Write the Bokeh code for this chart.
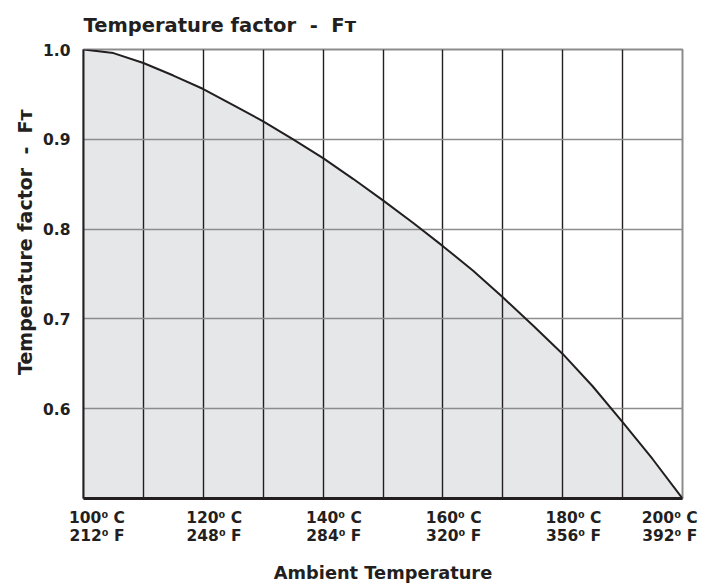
from bokeh.plotting import figure
from bokeh.models import FixedTicker, ColumnDataSource, Range1d, Title
from bokeh.embed import file_html
from bokeh.resources import INLINE

# ---- data ----
temp_c = [100, 105, 110, 115, 120, 125, 130, 135, 140, 145, 150,
          155, 160, 165, 170, 175, 180, 185, 190, 195, 200]
factor = [1.000, 0.996, 0.985, 0.971, 0.956, 0.938, 0.920, 0.900, 0.879, 0.856, 0.832,
          0.807, 0.781, 0.754, 0.724, 0.693, 0.661, 0.625, 0.585, 0.544, 0.500]

x_label_ticks = [100, 120, 140, 160, 180, 200]
x_label_c = ["100\u2070 C", "120\u2070 C", "140\u2070 C", "160\u2070 C", "180\u2070 C", "200\u2070 C"]
x_label_f = ["212\u2070 F", "248\u2070 F", "284\u2070 F", "320\u2070 F", "356\u2070 F", "392\u2070 F"]
x_grid_ticks = [110, 120, 130, 140, 150, 160, 170, 180, 190]
y_ticks = [0.6, 0.7, 0.8, 0.9, 1.0]
y_tick_labels = ["0.6", "0.7", "0.8", "0.9", "1.0"]

NB = "\u00a0"
title_text = "Temperature factor" + NB * 2 + "-" + NB * 2 + "F\u1d1b"
x_title = "Ambient Temperature"
y_title = "Temperature factor" + NB * 2 + "-" + NB * 2 + "F\u1d1b"

FONT = "DejaVu Sans"
INK = "#231F20"
GRAY = "#8C8C8C"
FILL = "#E6E7E8"

X0, X1 = 100, 200
Y0, Y1 = 0.5, 1.0

p = figure(width=708, height=586, output_backend="svg", toolbar_location=None,
           x_range=Range1d(X0, X1), y_range=Range1d(Y0, Y1),
           min_border_left=83, min_border_right=26, min_border_top=49, min_border_bottom=88)

# title
p.title.text = title_text
p.title.text_font = FONT
p.title.text_font_size = "19.5px"
p.title.text_font_style = "bold"
p.title.text_color = INK
p.title.align = "left"
p.title.vertical_align = "top"
p.title.standoff = 22

# fill under curve and curve
src = ColumnDataSource(dict(x=temp_c, y=factor, y0=[Y0] * len(temp_c)))
p.varea(x="x", y1="y0", y2="y", source=src, fill_color=FILL, level="image")
p.line(x="x", y="y", source=src, line_color=INK, line_width=2)

# grids
p.xgrid.ticker = FixedTicker(ticks=x_grid_ticks)
p.xgrid.grid_line_color = INK
p.xgrid.grid_line_width = 1.4
p.ygrid.ticker = FixedTicker(ticks=y_ticks)
p.ygrid.grid_line_color = GRAY
p.ygrid.grid_line_width = 1.6

p.outline_line_color = GRAY
p.outline_line_width = 2
p.background_fill_color = "white"
p.border_fill_color = "white"

# y axis
ya = p.yaxis[0]
ya.ticker = FixedTicker(ticks=y_ticks)
ya.major_label_overrides = {t: l for t, l in zip(y_ticks, y_tick_labels)}
ya.major_tick_out = 0
ya.major_tick_in = 0
ya.minor_tick_out = 0
ya.minor_tick_in = 0
ya.major_label_standoff = 13
ya.major_label_text_font = FONT
ya.major_label_text_font_style = "bold"
ya.major_label_text_font_size = "15.5px"
ya.major_label_text_color = INK
ya.axis_line_color = INK
ya.axis_line_width = 2

# y axis title as a left-side title, nearer the top as in the reference
p.add_layout(Title(text=y_title, align="right", offset=60, text_font=FONT,
                   text_font_style="bold", text_font_size="19px", text_color=INK,
                   standoff=10), "left")

# x axis: two-line labels; the reference sets them a little right of each tick
# (the last one a little left), done here by padding with no-break spaces
pad_left = [5, 4, 4, 4, 4, 0]
pad_right = [0, 0, 0, 0, 0, 2]
x_labels = {}
for t, c, f, a, b in zip(x_label_ticks, x_label_c, x_label_f, pad_left, pad_right):
    x_labels[t] = NB * a + c + NB * b + "\n" + NB * a + f + NB * b

xa = p.xaxis[0]
xa.ticker = FixedTicker(ticks=x_label_ticks)
xa.major_label_overrides = x_labels
xa.major_label_text_font = FONT
xa.major_label_text_font_style = "bold"
xa.major_label_text_font_size = "15.5px"
xa.major_label_text_color = INK
xa.major_label_text_line_height = 1.05
xa.major_label_standoff = 10
xa.major_tick_out = 0
xa.major_tick_in = 0
xa.minor_tick_out = 0
xa.minor_tick_in = 0
xa.axis_line_color = INK
xa.axis_line_width = 3
xa.axis_label = x_title
xa.axis_label_text_font = FONT
xa.axis_label_text_font_style = "bold"
xa.axis_label_text_font_size = "17.8px"
xa.axis_label_text_color = INK
xa.axis_label_standoff = 14

open("out.html", "w").write(file_html(p, INLINE))
